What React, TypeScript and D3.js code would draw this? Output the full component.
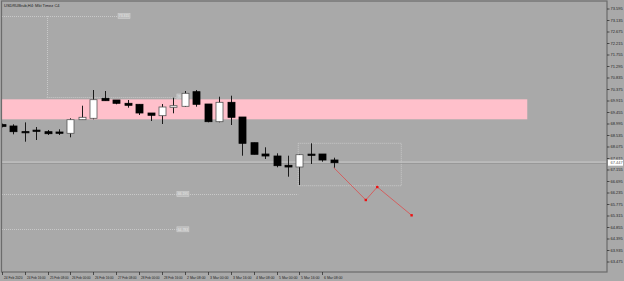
import React from "react";
import * as d3 from "d3";

// ---- data ----
const title = "USDRUBrub,H4:  Mkt Timez C4";
const opens = [68.97, 68.915, 68.69, 68.75, 68.687, 68.675, 68.623, 69.167, 69.223, 70.023, 69.955, 69.823, 69.783, 69.435, 69.327, 69.663, 69.703, 70.287, 69.795, 69.087, 69.863, 69.275, 68.247, 67.795, 67.715, 67.343, 67.275, 67.79, 67.795, 67.555];
const highs = [69.01, 68.983, 69.06, 68.875, 68.755, 68.783, 69.223, 69.727, 70.355, 70.315, 69.955, 69.955, 69.783, 69.435, 69.795, 70.047, 70.315, 70.355, 69.795, 70.087, 70.127, 69.275, 68.247, 68.063, 67.823, 67.727, 67.795, 68.223, 67.795, 67.647];
const lows = [68.86, 68.583, 68.287, 68.355, 68.555, 68.555, 68.463, 69.167, 69.183, 69.927, 69.783, 69.647, 69.355, 69.115, 68.995, 69.423, 69.675, 69.687, 69.063, 69.063, 68.955, 67.727, 67.783, 67.595, 67.263, 66.887, 66.555, 67.395, 67.487, 67.247];
const closes = [68.9, 68.687, 68.67, 68.74, 68.607, 68.623, 69.167, 69.263, 69.967, 69.927, 69.823, 69.743, 69.435, 69.343, 69.675, 69.727, 70.223, 69.783, 69.087, 69.863, 69.263, 68.223, 67.783, 67.715, 67.327, 67.275, 67.767, 67.78, 67.555, 67.447];

const priceTicks = [73.595, 73.135, 72.675, 72.215, 71.755, 71.295, 70.835, 70.375, 69.915, 69.455, 68.995, 68.535, 68.075, 67.615, 67.155, 66.695, 66.235, 65.775, 65.315, 64.855, 64.395, 63.935, 63.475];
const timeLabels = ["24 Feb 2020", "24 Feb 16:00", "25 Feb 08:00", "26 Feb 00:00", "26 Feb 16:00", "27 Feb 08:00", "28 Feb 00:00", "28 Feb 16:00", "2 Mar 08:00", "3 Mar 00:00", "3 Mar 16:00", "4 Mar 08:00", "5 Mar 00:00", "5 Mar 16:00", "6 Mar 08:00"];
const timeLabelBars = [0, 2, 4, 6, 8, 10, 12, 14, 16, 18, 20, 22, 24, 26, 28];

const currentPrice = 67.447;
const zoneTop = 69.983;
const zoneBottom = 69.183;
const zoneEndBar = 45.9;

const forecastBars = [29, 31.8, 32.8, 35.8];
const forecastPrices = [67.25, 65.955, 66.475, 65.343];

const boxBars = [25.9, 34.9];
const boxPrices = [68.223, 66.527];

// dotted level lines
const levelPrices = [73.315, 70.095, 66.195, 64.783];
const levelFromBars = [-0.2, 3.93, -0.2, -0.2];
const levelToBars = [10.16, 15.3, 25.9, 15.3];
const levelLabelBars = [10.16, 15.3, 15.3, 15.3];
const levelLabels = ["73.315", "70.095", "66.195", "64.783"];
const vLineBar = 3.93;
const vLinePrices = [73.315, 70.095];

export default function App() {
  const W = 624, H = 281;
  const left = 1.5, right = 607, top = 1.5, bottom = 272;
  const x = d3.scaleLinear().domain([0, 1]).range([1.7, 13.15]);
  const y = d3.scaleLinear().domain([63.475, 73.595]).range([262, 9]);
  const bw = 7;
  const fs = 4;
  const bg = "#a9a9a9";
  const frame = "#6c6c6c";
  const dot = "#c9c9c9";

  const fLine = d3.line<number>().x((_, i) => x(forecastBars[i])).y((d) => y(d));

  return (
    <svg width={W} height={H} style={{ position: "absolute", left: 0, top: 0, display: "block" }} fontFamily="Liberation Sans, Arial, sans-serif">
      <defs>
        <clipPath id="plot">
          <rect x={left + 0.5} y={top + 0.5} width={right - left - 1} height={bottom - top - 1} />
        </clipPath>
      </defs>
      <rect x={0} y={0} width={W} height={H} fill={bg} />
      <g clipPath="url(#plot)">
        <rect x={0} y={y(zoneTop)} width={x(zoneEndBar)} height={y(zoneBottom) - y(zoneTop)} fill="#ffc0cb" />
        {levelPrices.map((p, i) => (
          <line key={"lv" + i} x1={Math.max(0, x(levelFromBars[i]))} x2={x(levelToBars[i])} y1={Math.round(y(p)) + 0.5} y2={Math.round(y(p)) + 0.5} stroke={dot} strokeDasharray="1,1" strokeWidth={1} />
        ))}
        <line x1={Math.round(x(vLineBar)) + 0.5} x2={Math.round(x(vLineBar)) + 0.5} y1={y(vLinePrices[0])} y2={y(vLinePrices[1])} stroke={dot} strokeDasharray="1,1" />
        {levelPrices.map((p, i) => (
          <g key={"lb" + i}>
            <rect x={x(levelLabelBars[i])} y={y(p) - 2.5} width={12} height={5} fill="#bdbdbd" stroke="#d0d0d0" strokeWidth={0.6} />
            <text x={x(levelLabelBars[i]) + 6} y={y(p) + 1.4} fontSize={3.4} textAnchor="middle" fill="#e8e8e8">{levelLabels[i]}</text>
          </g>
        ))}
        <rect x={x(boxBars[0])} y={y(boxPrices[0])} width={x(boxBars[1]) - x(boxBars[0])} height={y(boxPrices[1]) - y(boxPrices[0])} fill="none" stroke={dot} strokeDasharray="1,1" />
        <line x1={0} x2={right} y1={y(currentPrice) - 0.5} y2={y(currentPrice) - 0.5} stroke="#dcdcdc" strokeWidth={1} />
        <line x1={0} x2={right} y1={y(currentPrice) + 0.5} y2={y(currentPrice) + 0.5} stroke="#8a8a8a" strokeWidth={0.8} />
        {opens.map((o, i) => {
          const c = closes[i];
          const cx = Math.round(x(i)) + 0.5;
          const bull = c > o;
          const yt = y(Math.max(o, c));
          const yb = y(Math.min(o, c));
          const h = Math.max(1.2, yb - yt);
          return (
            <g key={"c" + i}>
              <line x1={cx} x2={cx} y1={y(highs[i])} y2={y(lows[i])} stroke="#1a1a1a" strokeWidth={1} />
              <rect x={cx - bw / 2} y={yt} width={bw} height={h} fill={bull ? "#ffffff" : "#000000"} stroke={bull ? "#555555" : "#000000"} strokeWidth={0.8} />
            </g>
          );
        })}
        <path d={fLine(forecastPrices) || ""} fill="none" stroke="#e04848" strokeWidth={0.9} strokeOpacity={0.85} />
        {forecastBars.slice(1).map((b, i) => (
          <rect key={"fd" + i} x={x(b) - 1.2} y={y(forecastPrices[i + 1]) - 1.2} width={2.4} height={2.4} fill="#ee1111" />
        ))}
      </g>
      <rect x={left} y={top - 0.5} width={right - left} height={bottom - top + 0.5} fill="none" stroke={frame} strokeWidth={1.2} />
      <text x={4} y={6.5} fontSize={fs} fill="#1c1c1c">{title}</text>
      {priceTicks.map((p, i) => (
        <g key={"pt" + i}>
          <line x1={right} x2={right + 2.5} y1={y(p)} y2={y(p)} stroke="#222" strokeWidth={0.7} />
          <text x={right + 3.5} y={y(p) + 1.4} fontSize={fs} fill="#1e1e1e">{p.toFixed(3)}</text>
        </g>
      ))}
      <rect x={right + 1} y={y(currentPrice) - 3} width={15} height={6} fill="#ffffff" />
      <text x={right + 3.5} y={y(currentPrice) + 1.4} fontSize={fs} fill="#555">{currentPrice.toFixed(3)}</text>
      {timeLabels.map((t, i) => {
        const tx = Math.round(x(timeLabelBars[i])) + 0.5;
        return (
          <g key={"tl" + i}>
            <line x1={tx} x2={tx} y1={bottom} y2={bottom + 3} stroke="#222" strokeWidth={0.7} />
            <text x={tx + 1.5} y={bottom + 6.5} fontSize={3.6} fill="#1e1e1e" textLength={18.5} lengthAdjust="spacingAndGlyphs">{t}</text>
          </g>
        );
      })}
    </svg>
  );
}
